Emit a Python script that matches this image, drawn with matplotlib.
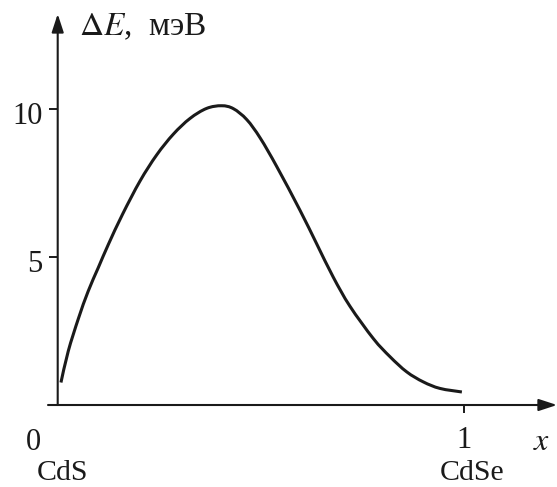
import matplotlib
matplotlib.use("Agg")
import matplotlib.pyplot as plt
from matplotlib.path import Path
from matplotlib.patches import PathPatch
import matplotlib.transforms as mtransforms

plt.rcParams['font.family'] = ['Liberation Serif', 'DejaVu Serif']
plt.rcParams['mathtext.fontset'] = 'stix'

# data
x_vals = [0.008, 0.026, 0.051, 0.075, 0.100, 0.125, 0.160, 0.203, 0.244, 0.285,
          0.326, 0.367, 0.404, 0.433, 0.466, 0.499, 0.540, 0.597, 0.638, 0.679,
          0.720, 0.778, 0.819, 0.860, 0.901, 0.942, 0.996]
dE_vals = [0.76, 1.82, 2.92, 3.84, 4.64, 5.43, 6.45, 7.57, 8.45, 9.15,
           9.68, 10.02, 10.11, 10.01, 9.64, 9.02, 8.05, 6.58, 5.45, 4.32,
           3.34, 2.24, 1.63, 1.12, 0.78, 0.56, 0.44]
y_ticks = [5, 10]
y_tick_labels = ["5", "10"]
x_ticks = [1]
x_tick_labels = ["1"]
x_end_labels = ["CdS", "CdSe"]
y_label = "$\\Delta E$,\u2002мэВ"

INK = '#1a1a1a'
W, H = 557, 487
fig = plt.figure(figsize=(W / 100, H / 100), dpi=100)
ax = fig.add_axes([0, 0, 1, 1])
ax.set_xlim(-0.1422, 1.2304)
ax.set_ylim(-2.770, 13.682)
ax.patch.set_visible(False)

for s in ['top', 'right']:
    ax.spines[s].set_visible(False)
for s in ['left', 'bottom']:
    ax.spines[s].set_position(('data', 0))
    ax.spines[s].set_visible(False)

ax.set_yticks(y_ticks)
ax.set_yticklabels(y_tick_labels)
ax.set_xticks(x_ticks)
ax.set_xticklabels(x_tick_labels)
ax.tick_params(axis='y', direction='out', length=6.8, width=1.4, pad=4.3,
               labelsize=22, color=INK, labelcolor=INK)
ax.tick_params(axis='x', direction='out', length=5.8, width=1.4, pad=9,
               labelsize=22, color=INK, labelcolor=INK)
off = mtransforms.ScaledTranslation(0, -4 / 100, fig.dpi_scale_trans)
for lab in ax.get_yticklabels():
    lab.set_transform(lab.get_transform() + off)

arrow = dict(arrowstyle="-|>,head_length=1.1,head_width=0.36", color=INK,
             lw=1.5, shrinkA=0, shrinkB=0, mutation_scale=10)
ax.annotate("", xy=(1.2304, 0), xytext=(-0.0239, 0), arrowprops=arrow,
            annotation_clip=False)
ax.annotate("", xy=(0, 13.21), xytext=(0, 0), arrowprops=arrow,
            annotation_clip=False)

# smooth curve through the read points (Catmull-Rom drawn as cubic Bezier path)
pts = list(zip(x_vals, dE_vals))
n = len(pts)
verts = [pts[0]]
codes = [Path.MOVETO]
for i in range(n - 1):
    p0 = pts[i - 1] if i > 0 else pts[i]
    p1 = pts[i]
    p2 = pts[i + 1]
    p3 = pts[i + 2] if i + 2 < n else pts[i + 1]
    c1 = (p1[0] + (p2[0] - p0[0]) / 6, p1[1] + (p2[1] - p0[1]) / 6)
    c2 = (p2[0] - (p3[0] - p1[0]) / 6, p2[1] - (p3[1] - p1[1]) / 6)
    verts += [c1, c2, p2]
    codes += [Path.CURVE4] * 3
ax.add_patch(PathPatch(Path(verts, codes), facecolor='none', edgecolor=INK,
                       lw=2.2, capstyle='butt'))

ax.text(0.052, 12.5, y_label, fontsize=24, ha='left', va='baseline', color=INK)
ax.text(-0.0597, -1.52, "0", fontsize=22, ha='center', va='baseline', color=INK)
ax.text(1.192, -1.52, r"$x$", fontsize=23, ha='center', va='baseline', color=INK)
ax.text(0.0106, -2.53, x_end_labels[0], fontsize=21.5, ha='center', va='baseline', color=INK)
ax.text(1.021, -2.53, x_end_labels[1], fontsize=21.5, ha='center', va='baseline', color=INK)

fig.savefig("out.png", dpi=100)
